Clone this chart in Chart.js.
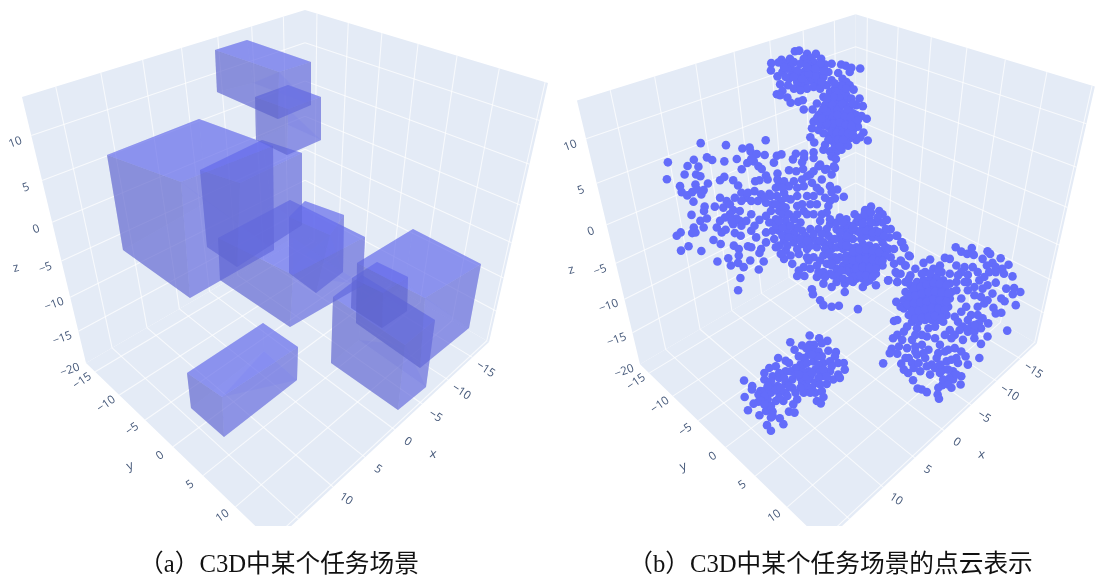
<!DOCTYPE html>
<html><head><meta charset="utf-8">
<script src="https://cdn.jsdelivr.net/npm/chart.js@4/dist/chart.umd.js"></script>
<style>
html,body{margin:0;padding:0;background:#fff;width:1096px;height:576px;overflow:hidden}
canvas{position:absolute;top:0;filter:blur(.4px)}
#a{left:0}#b{left:552px}
</style></head><body>
<canvas id="a" width="558" height="580"></canvas>
<canvas id="b" width="557" height="580"></canvas>
<script>
const captionA = "（a）C3D中某个任务场景";
const captionB = "（b）C3D中某个任务场景的点云表示";
const xTicks = [-15,-10,-5,0,5,10,15];
const yTicks = [-15,-10,-5,0,5,10,15];
const zTicks = [-20,-15,-10,-5,0,5,10];
const xRange = [-18.6,18.5], yRange = [-17,15.3], zRange = [14,-20];

// Boxes of panel (a), corners: A B C D (upper) E F G H (lower)
const boxBig    = [107,155,199,119,273,146,181,182,123,250,207,202,274,250,190,298];
const boxTop    = [215,50,247,40,311,62,279,72,217,92,253,83,311,105,278,119];
const boxSecond = [255,97,288,85,321,97,288,109,256,140,288,125,321,140,287,155];
const boxTall   = [200,170,262,140,302,153,240,183,207,247,272,205,302,225,237,267];
const boxWide   = [218,238,290,200,365,237,293,275,220,280,293,238,363,285,290,327];
const boxSmall  = [289,217,305,201,344,215,330,235,289,273,305,255,343,272,316,293];
const boxLow    = [187,373,263,323,298,347,222,397,191,408,264,351,297,380,224,437];
const boxRightA = [357,263,413,229,481,264,425,298,356,323,405,283,469,328,420,368];
const boxRightB = [352,278,377,262,408,277,383,293,351,308,377,292,407,311,382,328];
const boxRightC = [333,297,362,275,435,320,405,345,331,363,359,340,426,387,398,410];

const cloudTop = [433,52,446,50,361,88,360,110,392,78,383,86,405,88,418,75,430,85,380,128,395,115,388,152,378,182,395,172,388,185,410,192,420,208,443,205,457,200,460,228,415,135,412,155,430,165,445,125,460,115,470,60,497,60,480,72,513,75,460,75,450,90,490,85,505,100,525,92,545,90,574,92,588,96,605,102,600,115,632,104,565,118,578,135,590,145,600,155,612,168,630,195,640,218,620,215,636,248,652,256,625,280,642,298,632,312,655,322,620,320,595,338,575,350,560,355,540,355,545,370,558,378,555,405,545,425,530,408,510,395,520,350,525,335,480,312,492,328,485,285,490,265,505,245,525,245,487,228,500,210,520,190,540,175,555,165,560,190,575,200,480,100,490,110,505,125,520,130,500,145,480,140,465,150,450,155,440,145,425,120,470,165,490,160,510,165,530,155,545,140,535,115,520,110,495,125,440,110,430,130,405,130,540,200,555,210,570,220,585,205,600,220,610,240,595,235,575,240,555,235,540,225,525,215,530,255,545,260,560,255,580,260,595,265,610,265,520,275,535,280,550,285,565,280,580,285,595,290,610,290,540,305,555,310,570,305,585,310,600,315,560,330,575,330,550,325,590,330,520,300,505,290,510,270,500,255,620,245,625,260,515,235,570,190,590,185,605,195,550,190,530,195,565,170,580,170,470,90,465,125,455,135,475,120,510,90,515,145,495,105,470,100,420,100,410,105,400,100,450,170,548,215,563,228,578,212,593,228,548,248,563,245,585,250,602,250,535,268,550,270,570,268,588,275,605,278,545,295,560,298,578,298,595,302,530,270,515,255,565,318,580,320,555,340,570,340,535,320,610,305,530,235,520,225,610,210,575,155,555,150,590,165];
const cloudMid = [146,30,223,36,344,21,273,46,295,43,298,55,317,63,341,66,378,68,392,64,436,62,461,62,461,75,427,79,455,88,490,58,490,75,369,89,46,88,125,80,165,73,181,81,218,85,256,78,139,101,106,99,97,125,132,125,145,130,43,139,83,160,130,155,168,152,205,142,218,132,245,142,260,158,271,109,288,90,308,85,300,78,322,100,332,108,325,142,312,145,345,128,350,140,380,122,415,112,437,115,458,108,480,125,490,115,505,100,525,110,552,100,540,160,562,170,545,178,582,192,555,197,540,205,535,220,530,240,515,245,88,178,105,188,120,178,135,170,155,172,148,185,124,207,158,222,156,235,189,222,118,247,145,265,165,258,155,285,125,285,130,300,120,302,85,300,73,310,86,355,109,342,148,356,185,323,195,285,210,300,222,292,207,335,247,340,262,350,262,370,230,378,238,400,197,388,260,392,277,405,297,385,338,388,323,412,267,438,260,475,290,342,300,345,330,350,325,362,250,302,268,310,245,275,265,265,255,258,270,280,300,245,325,262,300,295,315,315,345,300,345,330,205,195,225,205,215,225,235,215,245,232,265,235,250,195,270,180,285,195,300,205,310,175,330,185,355,183,345,210,365,215,378,190,375,165,385,150,400,145,415,160,430,145,440,165,460,160,470,190,490,190,510,175,525,195,500,215,480,215,460,235,440,220,420,200,400,180,390,205,405,225,385,235,360,235,345,250,375,260,405,265,430,260,450,270,470,245,490,245,510,265,540,275,560,290,530,290,505,290,480,290,455,295,430,300,410,300,385,295,365,295,370,320,400,325,430,330,455,335,480,320,500,345,520,330,490,375,470,375,445,365,405,355,400,380,425,395,460,405,475,385,500,400,520,370,545,350,440,432,462,432,500,435,520,420,545,400,550,430,520,455,545,465,485,472,488,487,510,505,520,520,545,525,567,522,625,532,585,480,585,455,610,450,640,465,680,460,717,445,745,450,755,425,770,400,783,372,755,385,765,345,757,330,742,310,725,290,713,262,690,235,665,222,647,232,615,245,590,260,560,270,700,245,720,315,700,330,725,375,740,420,700,400,580,290,600,280,620,270,640,260,660,255,680,270,600,300,620,295,640,285,660,285,680,295,570,320,590,325,610,320,650,310,670,315,690,315,580,350,600,345,620,345,640,335,660,340,680,345,700,355,570,375,590,370,610,370,630,365,650,365,670,370,690,375,580,400,600,395,620,395,640,390,660,395,680,395,600,420,620,420,640,415,660,420,680,425,620,440,640,440,660,445,560,410,545,375,565,430,710,290,650,450,380,140,395,165,405,195,395,220,375,215,360,190,340,195,320,205,290,180,270,205,235,245,220,255,205,265,240,265,285,265,310,280,355,270,375,280,395,245,415,245,440,245,455,215,440,190,455,140,470,130,485,150,500,165,515,140,440,285,415,280,395,310,385,340,375,345,415,315,440,315,465,310,490,305,515,305,535,310,545,320,540,335,500,325,470,350,440,350,510,385,530,395,555,375,560,345,575,335,590,310,630,300,650,295,670,300,690,300,705,310,635,320,590,340,610,358,630,352,650,352,670,355,690,360,710,345,710,370,590,385,610,385,630,380,650,380,670,382,690,385,600,408,620,408,640,405,660,408,680,410,700,385,630,430,650,430,670,435,610,435,590,415,575,415,580,440,600,445,720,350,735,350,735,395,570,300,555,320,540,260,570,255,590,275,625,255,645,245,665,240,685,255,700,270,665,270,640,272,610,285,580,270,420,280,395,285,385,265,450,320,480,340,470,325,510,325,525,350,535,365,560,385,545,395,540,425,560,450,525,435,505,420,480,410,445,415,420,370,390,365,410,340];
const cloudRight = [85,10,100,30,107,47,120,70,97,87,110,100,85,125,85,150,58,145,263,45,280,58,298,65,312,47,318,68,360,57,368,65,345,80,400,78,424,98,405,110,375,92,385,105,358,100,365,120,385,120,410,125,436,133,417,170,441,168,460,180,437,187,446,220,402,200,412,208,378,228,385,245,402,243,362,275,420,297,345,260,333,275,340,290,360,315,340,337,320,320,335,380,300,400,293,375,280,435,278,460,250,470,222,462,210,470,208,490,212,503,175,483,160,475,147,472,133,447,118,425,105,415,97,397,42,396,85,367,68,352,62,365,72,320,85,310,75,268,85,265,82,210,95,225,110,150,125,130,165,92,185,82,230,77,245,80,265,100,215,100,290,105,315,105,300,128,335,145,360,160,385,152,345,170,320,165,375,185,350,215,330,225,310,250,285,285,265,150,265,175,280,200,295,225,260,255,245,295,275,295,300,300,310,285,285,325,320,300,175,315,160,340,130,325,115,350,140,345,180,355,215,340,240,355,260,350,120,380,145,370,170,380,205,380,235,390,265,380,155,420,185,430,215,425,255,420,130,395,270,395,245,440,255,445,190,400,225,415,125,160,145,150,165,145,185,140,205,135,225,145,245,155,110,180,130,180,150,175,170,170,190,165,210,165,230,170,250,180,105,205,125,205,145,200,165,195,185,190,205,190,225,195,245,200,105,230,125,225,145,225,165,220,185,215,205,215,225,220,240,225,120,250,140,250,160,245,180,240,200,240,220,245,235,250,130,270,150,270,170,265,190,265,210,265,225,270,180,290,200,285,145,290,115,285,105,300,140,110,170,120,195,110,220,120,245,125,135,170,155,165,175,158,195,152,215,155,235,158,120,193,140,190,160,185,180,180,200,178,220,182,240,185,115,218,135,215,155,212,175,208,195,203,215,205,235,210,130,238,150,238,170,232,190,228,210,230,230,235,140,260,160,258,180,255,200,253,220,258,120,140,160,125,185,125,210,115,300,150,320,190,300,175,340,195,360,205,280,240,270,270,260,310,230,310,200,320,160,310,140,310,100,325,90,345,110,380,135,410,150,395,175,405,200,410,230,360,250,385,280,360,250,320,300,265,330,250,320,280,350,135,330,120,280,120,270,130,290,150,210,365,165,365,140,360,215,400,240,415,265,430,225,445,240,460];
const cloudLow = [268,42,209,62,297,50,322,58,305,65,282,70,245,72,222,85,235,105,268,70,258,80,278,85,295,90,325,88,348,92,345,105,305,105,265,100,250,110,172,110,195,118,205,125,240,130,280,120,310,125,330,120,355,125,372,125,375,145,355,160,340,175,360,170,320,188,305,165,285,145,265,150,245,150,225,140,145,140,165,135,130,155,130,175,68,178,93,195,92,205,118,210,155,165,175,170,195,150,210,150,215,175,195,185,170,195,150,195,130,210,150,215,175,215,195,215,215,200,245,185,260,195,285,215,305,210,250,215,230,235,218,250,70,228,112,220,97,248,112,242,140,235,165,240,188,240,200,225,290,240,302,247,310,228,80,268,115,283,135,270,155,272,155,285,150,290,177,292,205,272,222,275,188,310,138,313,150,330,270,165,300,150,330,150,225,160,240,170,265,175,285,185,175,155,190,170,150,180,165,205,180,200,205,195,140,195,130,225,240,200,255,165,275,155,295,130,290,105,275,100,250,130,260,125,235,160,310,145,320,165,335,135,295,170,300,190,275,200,120,240,150,255,175,230,130,250,225,215,270,215];

// Where the crops were taken: [left, top] of each, at 3x enlargement
const cropOrigins = {top:[650,30], mid:[650,130], right:[870,230], low:[720,320]};
const cropScale = 3;

// Frame of the 3D scene on the picture plane: cube corners and perspective of each axis
const corners = {T:[305,10],LT:[22,97],RT:[548,83],FT:[265,170],BB:[305,236],LB:[86,363],RB:[489,342],FB:[273,543]};
const persp = {x:-0.23,y:-0.217,z:0.27};
const panelShift = 551;
const colours = {pane:"#e4ebf6",grid:"rgba(255,255,255,.72)",text:"#46597a",point:"rgb(99,108,250)"};

function warp(v,r,b){const t=(v-r[0])/(r[1]-r[0]);return t*(1+b)/(1+b*t);}
function project(x,y,z,shift){
  const a=warp(x,xRange,persp.x),b=warp(y,yRange,persp.y),c=warp(z,zRange,persp.z);
  const C=corners;
  const mix=(k)=>(1-c)*((1-a)*(1-b)*C.T[k]+a*(1-b)*C.LT[k]+(1-a)*b*C.RT[k]+a*b*C.FT[k])
                +c*((1-a)*(1-b)*C.BB[k]+a*(1-b)*C.LB[k]+(1-a)*b*C.RB[k]+a*b*C.FB[k]);
  return {x:mix(0)+shift,y:mix(1)};
}
function poly(pts,colour,order){
  return {type:'line',data:pts.concat([pts[0]]),fill:'shape',backgroundColor:colour,borderWidth:0,borderColor:'transparent',
          pointRadius:0,tension:0,order:order};
}
function seg(p,q){
  return {type:'line',data:[p,q],fill:false,borderColor:colours.grid,borderWidth:1.1,pointRadius:0,tension:0,order:20};
}
function frame(shift){
  const [x0,x1]=xRange,[y0,y1]=yRange,[z0,z1]=zRange, P=(x,y,z)=>project(x,y,z,shift), d=[];
  d.push(poly([P(x0,y0,z0),P(x1,y0,z0),P(x1,y0,z1),P(x0,y0,z1)],colours.pane,30));
  d.push(poly([P(x0,y0,z0),P(x0,y1,z0),P(x0,y1,z1),P(x0,y0,z1)],colours.pane,30));
  d.push(poly([P(x0,y0,z1),P(x1,y0,z1),P(x1,y1,z1),P(x0,y1,z1)],colours.pane,30));
  xTicks.forEach(x=>{d.push(seg(P(x,y0,z0),P(x,y0,z1)));d.push(seg(P(x,y0,z1),P(x,y1,z1)));});
  yTicks.forEach(y=>{d.push(seg(P(x0,y,z0),P(x0,y,z1)));d.push(seg(P(x0,y,z1),P(x1,y,z1)));});
  zTicks.slice(1).forEach(z=>{d.push(seg(P(x0,y0,z),P(x1,y0,z)));d.push(seg(P(x0,y0,z),P(x0,y1,z)));});
  return d;
}
function boxFaces(b){
  const v=[];for(let i=0;i<16;i+=2)v.push({x:b[i],y:b[i+1]});
  const [A,B,C,D,E,F,G,H]=v;
  return [
    poly([A,B,F,E],"rgba(99,105,225,.36)",10),
    poly([B,C,G,F],"rgba(99,105,225,.36)",10),
    poly([E,F,G,H],"rgba(105,112,235,.36)",10),
    poly([D,F,G],"rgba(140,150,255,.22)",9),
    poly([A,B,C,D],"rgba(99,108,238,.52)",8),
    poly([A,D,H,E],"rgba(92,98,200,.50)",8),
    poly([D,C,G,H],"rgba(98,104,215,.50)",8)
  ];
}
function cropPoints(list,origin){
  const out=[];
  for(let i=0;i<list.length;i+=2) out.push({x:origin[0]+list[i]/cropScale,y:origin[1]+list[i+1]/cropScale});
  return out;
}
const axisText={
  id:'axisText',
  afterDatasetsDraw(chart,args,opts){
    const c=chart.ctx,sx=chart.scales.x,sy=chart.scales.y,s=opts.shift;
    const put=(t,p,dx,dy,rot,size)=>{
      c.save();c.translate(sx.getPixelForValue(p.x+dx),sy.getPixelForValue(p.y+dy));c.rotate(rot*Math.PI/180);
      c.font=size+'px "Open Sans"';c.fillStyle=colours.text;c.textAlign='center';c.textBaseline='middle';
      c.fillText(t,0,0);c.restore();
    };
    const fmt=v=>String(v).replace('-','\u2212');
    const [x0,x1]=xRange,[y0,y1]=yRange,[z0,z1]=zRange;
    zTicks.forEach(z=>put(fmt(z),project(x1,y0,z,s),-16,7,-20,11.5));
    yTicks.slice(0,6).forEach(y=>put(fmt(y),project(x1,y,z1,s),-13,9,-35,11.5));
    xTicks.slice(0,6).forEach(x=>put(fmt(x),project(x,y1,z1,s),13,12,33,11.5));
    put('z',{x:16+s,y:268},0,0,-15,12.5);
    put('y',{x:130+s,y:466},0,0,-20,12.5);
    put('x',{x:433+s,y:454},0,0,10,12.5);
  }
};
function makeChart(id,shift,marks,caption,xmin,xmax){
  return new Chart(document.getElementById(id),{
    type:'line',
    data:{datasets:frame(shift).concat(marks)},
    plugins:[axisText],
    options:{
      responsive:false,animation:false,events:[],
      layout:{padding:0},
      scales:{
        x:{type:'linear',min:xmin,max:xmax,display:false},
        y:{type:'linear',min:0,max:526,reverse:true,display:false}
      },
      plugins:{
        legend:{display:false},tooltip:{enabled:false},
        axisText:{shift:shift},
        title:{display:true,text:caption,position:'bottom',color:'#111',
          font:{family:'"Liberation Serif","Noto Sans CJK SC",serif',size:24.7,weight:'normal',lineHeight:1},
          padding:{top:26.8,bottom:2.5}}
      }
    }
  });
}
const boxes=[boxBig,boxTop,boxSecond,boxTall,boxWide,boxSmall,boxLow,boxRightA,boxRightB,boxRightC];
makeChart('a',0,boxes.flatMap(boxFaces),captionA,0,558);
const cloud=[].concat(cropPoints(cloudTop,cropOrigins.top),cropPoints(cloudMid,cropOrigins.mid),
                      cropPoints(cloudRight,cropOrigins.right),cropPoints(cloudLow,cropOrigins.low));
makeChart('b',panelShift,[{type:'line',data:cloud,showLine:false,pointRadius:4.3,pointBorderWidth:0,
  pointBackgroundColor:colours.point,order:1}],captionB,552,1109);
</script>
</body></html>
